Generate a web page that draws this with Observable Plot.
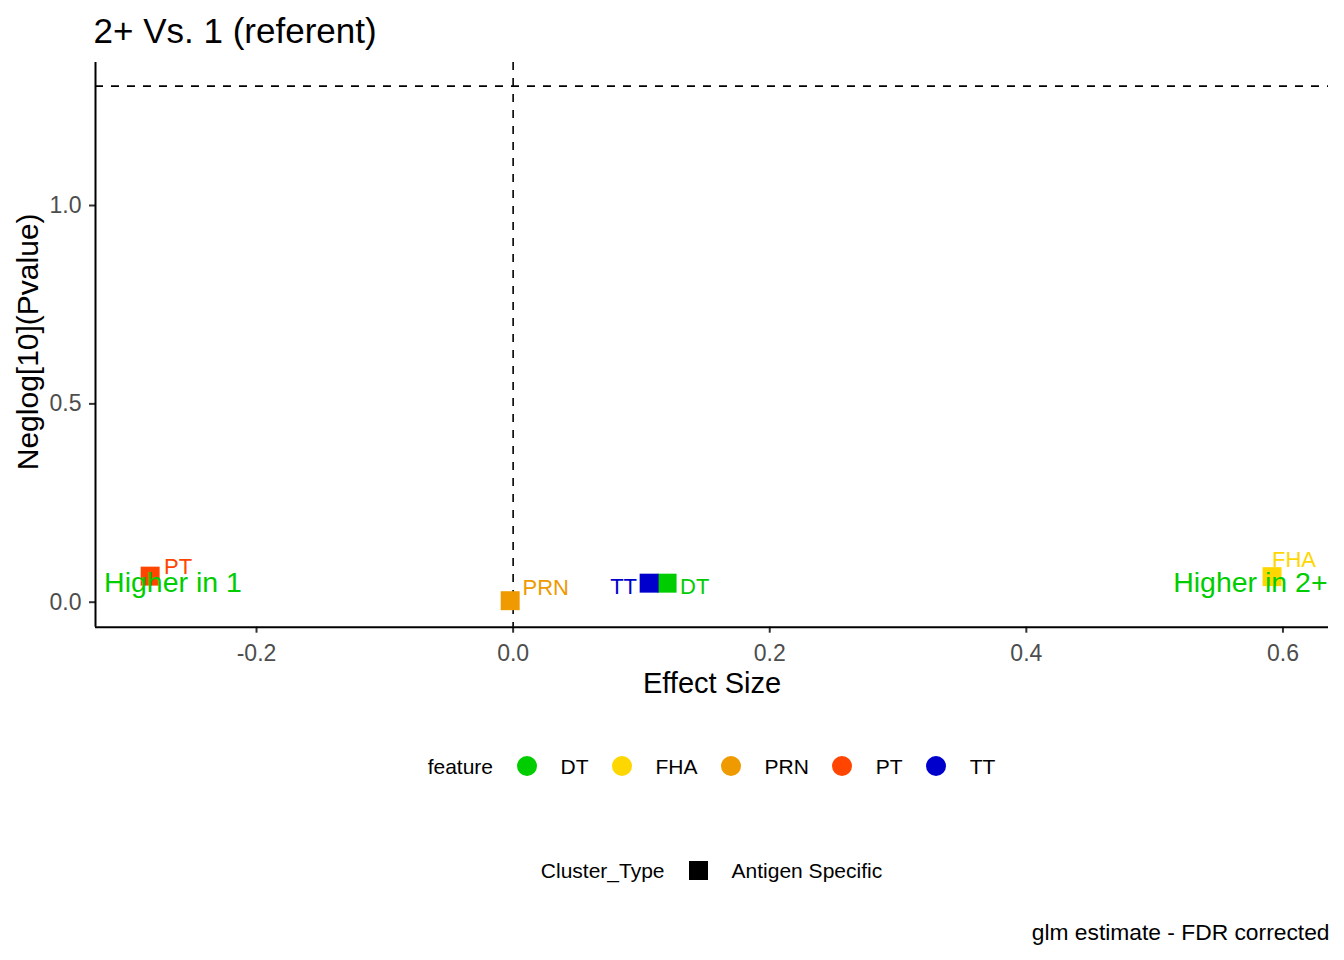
<!DOCTYPE html>
<html>
<head>
<meta charset="utf-8">
<script src="https://cdn.jsdelivr.net/npm/d3@7"></script>
<script src="https://cdn.jsdelivr.net/npm/@observablehq/plot@0.6"></script>
<style>
  body { margin: 0; background: #fff; font-family: "Liberation Sans", Arial, sans-serif; color: #000; }
  #wrap { width: 1344px; height: 960px; position: relative; overflow: hidden; background: #fff; }
  #title { height: 50px; position: relative; }
  #title span { position: absolute; left: 93.6px; top: 12.5px; font-size: 35px; line-height: 35px; white-space: nowrap; }
  #chart svg { display: block; }
  .legend { box-sizing: border-box; margin-left: 95px; width: 1233px; display: flex; justify-content: center; align-items: flex-start; font-size: 21px; line-height: 21px; }
  #legend1 { height: 92px; padding-top: 36px; }
  #legend2 { height: 100px; padding-top: 48.5px; }
  .row { display: flex; align-items: center; height: 20px; white-space: nowrap; }
  .ltitle { margin-right: 24px; }
  .key { display: inline-block; width: 20px; height: 20px; border-radius: 50%; margin-right: 23.5px; }
  .sq { display: inline-block; width: 19px; height: 19px; background: #000; margin-right: 24px; }
  .lab { margin-right: 23.5px; }
  .lab:last-child { margin-right: 0; }
  #caption { height: 48px; position: relative; }
  #caption span { position: absolute; right: 14.5px; top: 8.5px; font-size: 22.8px; line-height: 22px; white-space: nowrap; }
</style>
</head>
<body>
<div id="wrap">
  <div id="title"><span>2+ Vs. 1 (referent)</span></div>
  <div id="chart"></div>
  <div id="legend1" class="legend"><div class="row" id="row1"></div></div>
  <div id="legend2" class="legend"><div class="row" id="row2"></div></div>
  <div id="caption"><span>glm estimate - FDR corrected</span></div>
</div>
<script>
// ---- data ----
const features = ["DT", "FHA", "PRN", "PT", "TT"];
const featureColors = ["#00CD00", "#FFD700", "#EE9A00", "#FF4500", "#0000CD"];
const effectSize = [0.120, 0.5915, -0.0023, -0.2829, 0.106];
const negLogP = [0.048, 0.0644, 0.0038, 0.0657, 0.048];
const clusterTypes = ["Antigen Specific"];
const xTicks = [-0.2, 0.0, 0.2, 0.4, 0.6];
const yTicks = [0.0, 0.5, 1.0];
const annotLabels = ["Higher in 1", "Higher in 2+"];
const annotX = [-0.2651, 0.5746];
const annotY = [0.0245, 0.0245];
const pCutoff = 0.05;
const xDomain = [-0.3255, 0.6355];
const yDomain = [-0.063, 1.3605];

// ---- tables ----
const table = features.map((f, i) => ({feature: f, x: effectSize[i], y: negLogP[i], cluster: clusterTypes[0]}));
const annots = annotLabels.map((t, i) => ({text: t, x: annotX[i], y: annotY[i]}));

// label nudges (ggrepel-like placement)
const labelNudge = {
  DT:  {dx: 12.9,  dy: 10.8, anchor: "start"},
  FHA: {dx: 0,     dy: -9.2, anchor: "start"},
  PRN: {dx: 12.3,  dy: -6.2, anchor: "start"},
  PT:  {dx: 13.9,  dy: -2.6, anchor: "start"},
  TT:  {dx: -12.1, dy: 10.8, anchor: "end"}
};

const font = "Liberation Sans, Arial, sans-serif";
const fmt = d => d.toFixed(1);

const chart = Plot.plot({
  width: 1344,
  height: 670,
  marginLeft: 95,
  marginRight: 16,
  marginTop: 12,
  marginBottom: 93.3,
  style: {fontFamily: font, background: "white", overflow: "visible"},
  x: {domain: xDomain},
  y: {domain: yDomain},
  color: {domain: features, range: featureColors},
  marks: [
    Plot.ruleY([-Math.log10(pCutoff)], {stroke: "black", strokeWidth: 1.6, strokeDasharray: "8,8"}),
    Plot.ruleX([0], {stroke: "black", strokeWidth: 1.6, strokeDasharray: "8,8"}),
    Plot.axisX({ticks: xTicks, tickSize: 6, tickPadding: 11, fontSize: 23, fill: "#4D4D4D", stroke: "#333333", strokeWidth: 2, tickFormat: fmt, label: null}),
    Plot.axisY({ticks: yTicks, tickSize: 6, tickPadding: 8, fontSize: 23, fill: "#4D4D4D", stroke: "#333333", strokeWidth: 2, tickFormat: fmt, label: null}),
    Plot.ruleY([yDomain[0]], {stroke: "black", strokeWidth: 2}),
    Plot.ruleX([xDomain[0]], {stroke: "black", strokeWidth: 2}),
    Plot.dot(table, {x: "x", y: "y", fill: "feature", symbol: "square", r: 10.7, stroke: null}),
    ...features.map(f => Plot.text(table.filter(d => d.feature === f), {
      x: "x", y: "y", text: "feature", fill: "feature", fontSize: 22,
      textAnchor: labelNudge[f].anchor, lineAnchor: "bottom",
      dx: labelNudge[f].dx, dy: labelNudge[f].dy
    })),
    Plot.text(annots, {x: "x", y: "y", text: "text", fill: "#00CD00", fontSize: 28.5, textAnchor: "middle", lineAnchor: "bottom"}),
    Plot.text(["Effect Size"], {frameAnchor: "bottom", dy: 66, textAnchor: "middle", lineAnchor: "bottom", fontSize: 29, fill: "black"}),
    Plot.text(["Neglog[10](Pvalue)"], {frameAnchor: "left", dx: -58, dy: -3, rotate: -90, textAnchor: "middle", lineAnchor: "bottom", fontSize: 30, fill: "black"})
  ]
});
document.getElementById("chart").appendChild(chart);

// ---- legends ----
const row1 = document.getElementById("row1");
const t1 = document.createElement("span"); t1.className = "ltitle"; t1.textContent = "feature"; row1.appendChild(t1);
features.forEach((f, i) => {
  const k = document.createElement("span"); k.className = "key"; k.style.background = featureColors[i]; row1.appendChild(k);
  const l = document.createElement("span"); l.className = "lab"; l.textContent = f; row1.appendChild(l);
});
const row2 = document.getElementById("row2");
const t2 = document.createElement("span"); t2.className = "ltitle"; t2.textContent = "Cluster_Type"; row2.appendChild(t2);
clusterTypes.forEach(c => {
  const k = document.createElement("span"); k.className = "sq"; row2.appendChild(k);
  const l = document.createElement("span"); l.className = "lab"; l.textContent = c; row2.appendChild(l);
});
</script>
</body>
</html>
